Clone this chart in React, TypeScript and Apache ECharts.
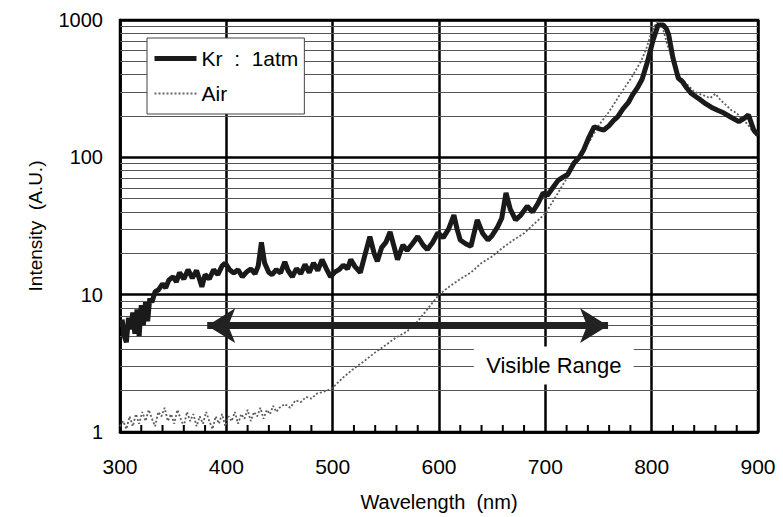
import React, { useEffect, useRef } from "react";
import * as echarts from "echarts";

const krWavelength = [
  302, 304, 306, 308, 310, 312, 314, 316, 318, 320, 322, 324, 326, 328, 330, 333, 336, 340, 343, 346,
  350, 353, 356, 360, 364, 368, 372, 375, 377, 380, 384, 388, 392, 396, 399, 403, 407, 411, 415, 419,
  423, 427, 430, 433, 436, 440, 443, 447, 451, 455, 458, 462, 466, 470, 474, 478, 482, 486, 490, 494,
  498, 502, 506, 510, 514, 517, 521, 526, 530, 535, 539, 542, 546, 550, 554, 558, 561, 566, 570, 575,
  580, 585, 589, 594, 599, 604, 609, 614, 617, 620, 625, 630, 636, 641, 646, 650, 655, 659, 663, 667,
  672, 677, 683, 688, 693, 698, 702, 707, 712, 717, 721, 727, 732, 736, 741, 746, 750, 755, 760, 764,
  768, 773, 778, 782, 787, 791, 796, 801, 806, 811, 814, 816, 820, 825, 829, 833, 837, 842, 846, 851,
  856, 862, 868, 875, 882, 887, 891, 896, 900,
];
const krIntensity = [
  6.6, 5.0, 4.5, 6.8, 5.6, 7.4, 5.2, 7.8, 5.0, 8.4, 6.0, 8.8, 6.4, 9.4, 8.8, 10.5, 10.8, 12.0, 11.2, 12.8,
  13.5, 12.4, 14.5, 13.0, 15.2, 13.2, 15.0, 12.8, 11.4, 14.0, 13.0, 15.2, 14.0, 16.2, 17.0, 15.2, 14.4, 15.2, 13.5, 14.6,
  15.4, 14.2, 16.2, 24, 17, 14.5, 14.0, 15.2, 14.4, 17.3, 15.0, 13.5, 15.5, 14.2, 16.6, 14.5, 17.0, 15.0, 18.0, 15.5,
  13.5, 14.6, 15.2, 16.4, 15.4, 18.0, 16.0, 14.5, 19.0, 26.5, 20.0, 17.5, 22.0, 24.0, 28.6, 22.0, 18.0, 23.0, 21.0, 23.5,
  26.5, 23.0, 21.3, 24.0, 28.2, 26.0, 30.0, 38.0, 30.0, 25.0, 23.5, 22.5, 35.0, 28.0, 25.0, 27.0, 31.0, 36.0, 55.0, 42.0,
  35.0, 38.0, 44.0, 40.0, 46.0, 55.0, 53.0, 60.0, 68.0, 72.0, 75.0, 91.0, 100.0, 113.0, 140.0, 167.0, 162.0, 158.0, 170.0, 185.0,
  197.0, 225.0, 250.0, 285.0, 325.0, 370.0, 495.0, 700.0, 920.0, 920.0, 860.0, 780.0, 530.0, 377.0, 355.0, 320.0, 293.0, 275.0, 262.0, 245.0,
  232.0, 220.0, 210.0, 195.0, 182.0, 192.0, 204.0, 158.0, 146.0,
];

const airWavelength = [
  300, 303, 306, 309, 312, 315, 318, 321, 324, 327, 330, 333, 336, 339, 342, 345, 348, 351, 354, 357,
  360, 363, 366, 369, 372, 375, 378, 381, 384, 387, 390, 393, 396, 399, 402, 405, 408, 411, 414, 417,
  420, 423, 426, 429, 432, 435, 438, 441, 444, 447, 450, 455, 460, 465, 470, 475, 480, 485, 490, 495,
  500, 510, 520, 530, 540, 550, 560, 570, 580, 590, 600, 610, 620, 630, 640, 650, 660, 670, 680, 690,
  700, 710, 720, 730, 740, 750, 760, 770, 780, 790, 795, 800, 805, 810, 815, 820, 825, 830, 835, 840,
  845, 850, 855, 860, 865, 870, 875, 880, 885, 890, 895, 900,
];
const airIntensity = [
  1.1, 1.2, 1.05, 1.3, 1.1, 1.35, 1.15, 1.4, 1.2, 1.45, 1.25, 1.1, 1.4, 1.3, 1.5, 1.2, 1.35, 1.15, 1.45, 1.25,
  1.1, 1.4, 1.2, 1.35, 1.1, 1.3, 1.15, 1.4, 1.2, 1.05, 1.3, 1.15, 1.35, 1.1, 1.3, 1.2, 1.4, 1.15, 1.35, 1.25,
  1.45, 1.2, 1.4, 1.3, 1.5, 1.25, 1.45, 1.35, 1.55, 1.4, 1.5, 1.6, 1.5, 1.7, 1.65, 1.8, 1.75, 1.9, 1.95, 2.0,
  2.1, 2.5, 2.9, 3.3, 3.8, 4.3, 4.9, 5.4, 6.4, 8.0, 10, 11.5, 13, 14.5, 17, 19, 22, 25, 28, 33,
  39, 52, 70, 95, 125, 170, 215, 285, 370, 500, 620, 820, 970, 900, 650, 500, 400, 360, 330, 300,
  290, 280, 270, 290, 260, 240, 220, 210, 190, 175, 155, 140,
];

const minorGridValues = [2, 3, 4, 5, 6, 7, 8, 9, 20, 30, 40, 50, 60, 70, 80, 90, 200, 300, 400, 500, 600, 700, 800, 900];
const minorTickWavelengths = [
  320, 340, 360, 380, 420, 440, 460, 480, 520, 540, 560, 580, 620, 640, 660, 680, 720, 740, 760, 780, 820, 840, 860, 880,
];
const minorTickLevel = 1;
const arrowRange = [382, 759];
const arrowLevel = 5.95;
const labelPos = [708, 3.05];

const FONT = "'Liberation Sans', Arial, Helvetica, sans-serif";

export default function App() {
  const ref = useRef<HTMLDivElement>(null);
  useEffect(() => {
    document.body.style.margin = "0";
    const chart = echarts.init(ref.current!, null, { renderer: "svg" });
    const krData = krWavelength.map((w, i) => [w, krIntensity[i]]);
    const airData = airWavelength.map((w, i) => [w, airIntensity[i]]);
    const tickData = minorTickWavelengths.map((w) => [w, minorTickLevel]);
    chart.setOption({
      animation: false,
      backgroundColor: "#fff",
      textStyle: { fontFamily: FONT },
      grid: {
        left: 120,
        right: 25,
        top: 20,
        bottom: 85,
        outerBoundsMode: "none",
        containLabel: false,
        show: true,
        borderColor: "#000",
        borderWidth: 2.5,
        backgroundColor: "transparent",
      },
      legend: {
        left: 147,
        top: 38,
        orient: "vertical",
        padding: [10, 6, 10, 5],
        itemGap: 14,
        itemWidth: 42,
        itemHeight: 16,
        borderColor: "#444",
        borderWidth: 1,
        backgroundColor: "#fff",
        itemStyle: { opacity: 0 },
        textStyle: { fontSize: 21, color: "#000", fontFamily: FONT },
        formatter: (name: string) => (name === "Kr : 1atm" ? "Kr  :  1atm" : name),
        data: [
          { name: "Kr : 1atm", lineStyle: { width: 5, color: "#1a1a1a" } },
          { name: "Air", lineStyle: { width: 1.8, color: "#666", type: [2, 2] } },
        ],
      },
      xAxis: {
        type: "value",
        min: 300,
        max: 900,
        interval: 100,
        name: "Wavelength  (nm)",
        nameLocation: "middle",
        nameGap: 60,
        nameTextStyle: { fontSize: 20, color: "#000", fontFamily: FONT },
        axisLine: { show: true, lineStyle: { color: "#000", width: 2.5 } },
        axisTick: { show: false },
        axisLabel: { fontSize: 21, color: "#000", margin: 24, fontFamily: FONT },
        splitLine: { show: true, lineStyle: { color: "#000", width: 2.5 } },
      },
      yAxis: {
        type: "log",
        logBase: 10,
        min: 1,
        max: 1000,
        name: "Intensity  (A.U.)",
        nameLocation: "middle",
        nameGap: 75,
        nameTextStyle: { fontSize: 19, color: "#000", fontFamily: FONT },
        axisLine: { show: true, lineStyle: { color: "#000", width: 2.5 } },
        axisTick: { show: false },
        axisLabel: { fontSize: 20, color: "#000", margin: 17, fontFamily: FONT, formatter: (v: number) => String(v) },
        splitLine: { show: true, lineStyle: { color: "#000", width: 2.5 } },
      },
      series: [
        {
          name: "ticks",
          type: "custom",
          data: tickData,
          silent: true,
          clip: false,
          z: 4,
          encode: { x: 0, y: 1 },
          renderItem: (params: any, api: any) => {
            const p = api.coord([api.value(0), api.value(1)]);
            return {
              type: "rect",
              shape: { x: p[0] - 1, y: p[1] - 7, width: 2, height: 7 },
              style: { fill: "#000" },
            };
          },
        },
        {
          name: "Air",
          type: "line",
          data: airData,
          symbol: "none",
          z: 2,
          lineStyle: { color: "#5e5e5e", width: 1.8, type: [2, 2] },
          itemStyle: { color: "#5e5e5e" },
          markLine: {
            silent: true,
            z: 1,
            symbol: ["none", "none"],
            label: { show: false },
            lineStyle: { color: "#555", width: 1.2, type: "solid" },
            data: minorGridValues.map((v) => ({ yAxis: v })),
          },
        },
        {
          name: "Kr : 1atm",
          type: "line",
          data: krData,
          symbol: "none",
          z: 3,
          lineStyle: { color: "#1a1a1a", width: 5 },
          itemStyle: { color: "#1a1a1a" },
          markLine: {
            silent: true,
            z: 5,
            symbol: ["arrow", "arrow"],
            symbolSize: [26, 28],
            label: { show: false },
            lineStyle: { color: "#222", width: 7, type: "solid" },
            data: [[{ coord: [arrowRange[0], arrowLevel] }, { coord: [arrowRange[1], arrowLevel] }]],
          },
          markPoint: {
            silent: true,
            z: 6,
            symbol: "rect",
            symbolSize: [160, 38],
            itemStyle: { color: "#fff" },
            label: { show: true, position: "inside", color: "#000", fontSize: 22, fontFamily: FONT, formatter: "Visible Range" },
            data: [{ coord: labelPos }],
          },
        },
      ],
    });
    return () => chart.dispose();
  }, []);
  return <div ref={ref} style={{ width: 783, height: 517 }} />;
}
